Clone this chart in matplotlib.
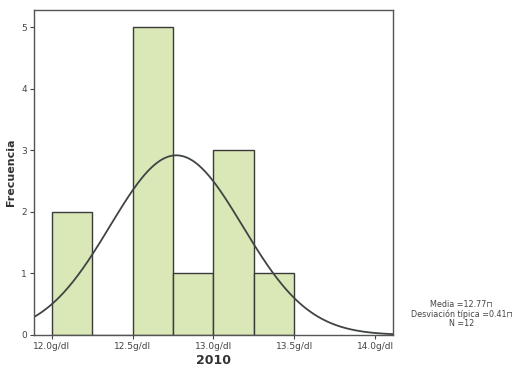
import numpy as np
import matplotlib.pyplot as plt

# histogram bins (g/dl) and counts
bin_edges = [12.0, 12.25, 12.5, 12.75, 13.0, 13.25, 13.5]
counts = [2, 0, 5, 1, 3, 1]
tick_vals = [12.0, 12.5, 13.0, 13.5, 14.0]
tick_labels = ['12.0g/dl', '12.5g/dl', '13.0g/dl', '13.5g/dl', '14.0g/dl']
media = 12.77
desv = 0.41
n = 12

fig = plt.figure(figsize=(5.14, 3.69), dpi=100)
ax = fig.add_axes([34 / 514, 34 / 369, 359 / 514, 325 / 369])

widths = np.diff(bin_edges)
ax.bar(bin_edges[:-1], counts, width=widths, align='edge',
       color='#d9e8b6', edgecolor='#3a3a3a', linewidth=1.0)

# normal curve from the stats in the legend
xs = np.linspace(11.89, 14.11, 300)
ys = n * 0.25 / (desv * np.sqrt(2 * np.pi)) * np.exp(-0.5 * ((xs - media) / desv) ** 2)
ax.plot(xs, ys, color='#3f4444', linewidth=1.3)

ax.set_xlim(11.89, 14.11)
ax.set_ylim(0, 5.28)
ax.set_xticks(tick_vals)
ax.set_xticklabels(tick_labels)
ax.set_yticks(range(6))
ax.tick_params(labelsize=6.5, colors='#444444', length=3, width=0.8, pad=2)
for s in ax.spines.values():
    s.set_color('#555555')
    s.set_linewidth(1.0)

ax.set_ylabel('Frecuencia', fontsize=8, fontweight='bold', color='#333333', labelpad=4)
ax.set_xlabel('2010', fontsize=9, fontweight='bold', color='#333333', labelpad=2)

fig.text(0.898, 0.149, 'Media =12.77\u2293\nDesviación típica =0.41\u2293\nN =12',
         ha='center', va='center', fontsize=5.8, color='#444444', linespacing=1.0)

fig.savefig('out.png', dpi=100)
